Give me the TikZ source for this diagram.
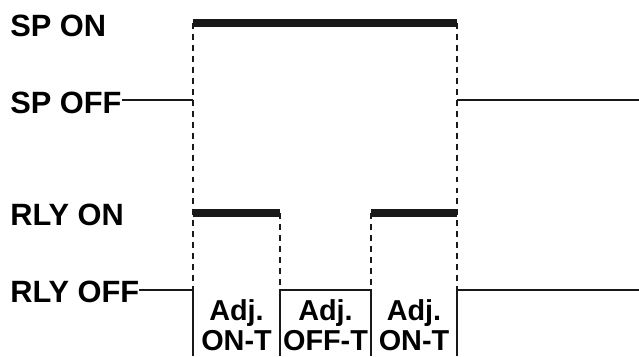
\documentclass[tikz,border=0pt]{standalone}
\usepackage{fontspec}
\setmainfont{Liberation Sans}
\tikzset{
  sigthin/.style={line width=1.5pt, draw=black!90, line cap=butt},
  sigthick/.style={line width=5pt, draw=black!90, line cap=butt},
  guide/.style={line width=1.6pt, draw=black!90, dash pattern=on 4.2pt off 3.6pt},
  levellabel/.style={font=\fontsize{21.9}{24}\bfseries, anchor=base west, inner sep=0pt},
  timelabel/.style={font=\fontsize{20.5}{24}\bfseries, anchor=base, inner sep=0pt},
}

\begin{document}
\begin{tikzpicture}[x=0.025cm, y=-0.025cm]
\useasboundingbox (0,0) rectangle (639,356);
% level labels
\node[levellabel] (spon) at (10,36) {SP ON};
\node[levellabel] (spoff) at (10,113) {SP OFF};
\node[levellabel] (rlyon) at (10,225) {RLY ON};
\node[levellabel] (rlyoff) at (10,302) {RLY OFF};
% dashed guides
\draw[guide] (193,23) -- (193,290);
\draw[guide] (457,23) -- (457,290);
\draw[guide] (280,213) -- (280,290);
\draw[guide] (371,213) -- (371,290);
% set point signal
\draw[sigthin] (spoff.east |- 0,100) -- (193,100);
\draw[sigthin] (457,100) -- (639,100);
\draw[sigthick] (193,23) -- (457,23);
% relay signal
\draw[sigthick] (193,213) -- (280,213);
\draw[sigthick] (371,213) -- (457,213);
\draw[sigthin] (rlyoff.east |- 0,290) -- (193,290) -- (193,356);
\draw[sigthin] (280,356) -- (280,290) -- (371,290) -- (371,356);
\draw[sigthin] (457,356) -- (457,290) -- (639,290);
% time labels
\node[timelabel] (adj1) at (236.5,320) {Adj.};
\node[timelabel] (ont1) at (236.5,350) {ON-T};
\node[timelabel] (adj2) at (325.5,320) {Adj.};
\node[timelabel] (offt) at (325.5,350) {OFF-T};
\node[timelabel] (adj3) at (414,320) {Adj.};
\node[timelabel] (ont2) at (414,350) {ON-T};
\end{tikzpicture}
\end{document}
